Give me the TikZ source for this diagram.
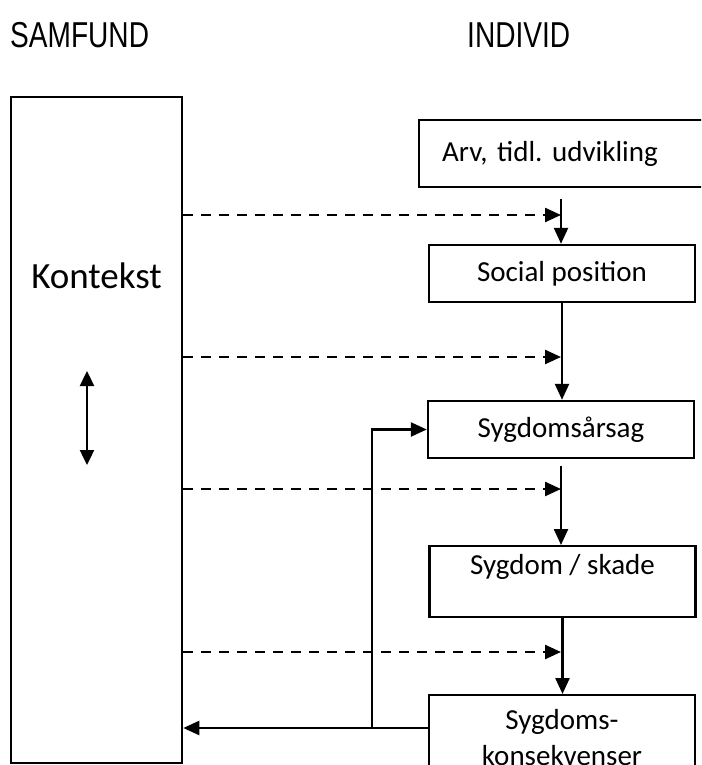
\documentclass[tikz,border=0pt]{standalone}
\usepackage{fontspec}
\setmainfont{Carlito}
\newfontfamily\headfont[FakeStretch=0.78]{Liberation Sans}
\usetikzlibrary{arrows.meta}
\frenchspacing

\begin{document}
\begin{tikzpicture}[
x=1pt, y=-1pt,
box/.style={
	draw, rectangle, line width=2.4pt,
	minimum width=266pt, minimum height=57pt,
	inner sep=0pt, font=\fontsize{29}{36}\selectfont
},
head/.style={font=\headfont\fontsize{36}{40}\selectfont, inner sep=0pt, anchor=base west},
tip/.style={line width=2.4pt, -{Triangle[length=16pt,width=14pt]}},
dashline/.style={tip, dash pattern=on 10pt off 8pt}
]
\useasboundingbox (0,0) rectangle (701,765);
\clip (0,0) rectangle (701,765);
% headings
\node[head] (samfund) at (10,48) {SAMFUND};
\node[head] (individ) at (467,48) {INDIVID};
% left column
\node[draw, line width=2.6pt, minimum width=171pt, minimum height=666pt, inner sep=0pt] (kontekst) at (96.5,430) {};
\node[font=\fontsize{37}{40}\selectfont] (ktext) at (96.5,276) {Kontekst};
\coordinate (k1) at (87,371);
\coordinate (k2) at (87,465);
\draw[line width=2.4pt, {Triangle[length=15pt,width=14pt]}-{Triangle[length=15pt,width=14pt]}] (k1) -- (k2);
% right column
\node[box, anchor=north west, text width=256pt, inner xsep=23pt, align=left, minimum height=67pt] (arv) at (418,119) {Arv, tidl. udvikling};
\node[box] (social) at (562,273.5) {Social position};
\node[box] (arsag) at (561,429.5) {Sygdomsårsag};
\node[box, anchor=north, text height=28pt, text depth=43pt] (sygdom) at (562.5,545) {Sygdom / skade};
\node[box, anchor=north, align=center, text width=264pt, inner ysep=14pt] (kons) at (562,694) {Sygdoms-\\konsekvenser};
\coordinate (s1) at (561,199);
\coordinate (s2) at (561,466);
\draw[tip] (s1) -- (s1 |- social.north);
\draw[tip] (social.south) -- (social.south |- arsag.north);
\draw[tip] (s2) -- (s2 |- sygdom.north);
\draw[tip] (sygdom.south) -- (sygdom.south |- kons.north);
% influence of context
\foreach \y [count=\i] in {215,357,489,652}
{
	\coordinate (d\i) at (561,\y);
	\draw[dashline] (kontekst.east |- d\i) -- (d\i);
}
% feedback
\coordinate (fb) at (372,728);
\draw[tip] (kons.west |- fb) -- (kontekst.east |- fb);
\draw[tip] (fb) |- (arsag.west);
\end{tikzpicture}
\end{document}
